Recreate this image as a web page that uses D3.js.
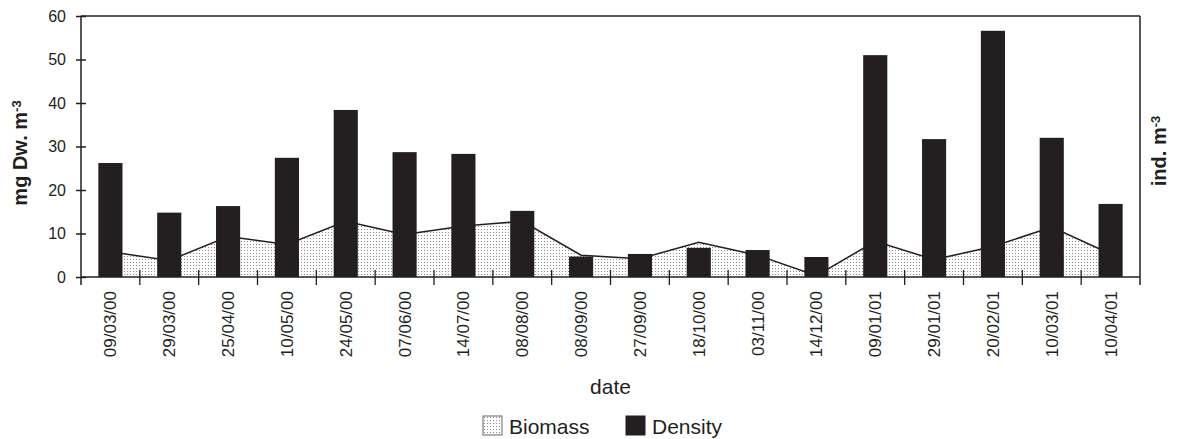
<!DOCTYPE html>
<html>
<head>
<meta charset="utf-8">
<script src="https://cdn.jsdelivr.net/npm/d3@7"></script>
<style>
  body { margin: 0; background: #fff; }
  svg { display: block; font-family: "Liberation Sans", Arial, sans-serif; }
</style>
</head>
<body>
<svg></svg>
<script>
var width = 1178;
var height = 439;

// data
var dates = ['09/03/00', '29/03/00', '25/04/00', '10/05/00', '24/05/00', '07/06/00',
  '14/07/00', '08/08/00', '08/09/00', '27/09/00', '18/10/00', '03/11/00',
  '14/12/00', '09/01/01', '29/01/01', '20/02/01', '10/03/01', '10/04/01'];
var biomass = [5.8, 3.8, 9.3, 7.5, 12.8, 9.8, 11.7, 12.8, 5.0, 4.2, 8.0, 5.0, 0.3, 8.2, 4.0, 7.0, 11.5, 5.3];
var density = [26.2, 14.8, 16.3, 27.4, 38.4, 28.7, 28.3, 15.2, 4.7, 5.3, 6.7, 6.2, 4.6, 51.0, 31.7, 56.6, 32.0, 16.8];
var yTicks = [0, 10, 20, 30, 40, 50, 60];
var seriesNames = ['Biomass', 'Density'];

var ink = '#231f20';
var plotL = 81, plotR = 1140, plotT = 16, plotB = 277;

var svg = d3.select('svg')
  .attr('width', width)
  .attr('height', height);

// dotted fill used for the biomass area
var defs = svg.append('defs');
var pat = defs.append('pattern')
  .attr('id', 'dots')
  .attr('patternUnits', 'userSpaceOnUse')
  .attr('width', 3)
  .attr('height', 3);
pat.append('rect').attr('width', 3).attr('height', 3).attr('fill', '#fff');
pat.append('rect').attr('x', 1).attr('y', 1).attr('width', 1).attr('height', 1).attr('fill', '#8a8a8a');

var x = d3.scaleBand().domain(dates).range([plotL, plotR]).padding(0);
var y = d3.scaleLinear().domain([0, 60]).range([plotB, plotT]);
var bw = x.bandwidth();
var cx = function(d) { return x(d) + bw / 2; };

// frame: top and right
svg.append('line')
  .attr('x1', plotL).attr('x2', plotR).attr('y1', plotT).attr('y2', plotT)
  .attr('stroke', ink).attr('stroke-width', 1.5);
svg.append('line')
  .attr('x1', plotR).attr('x2', plotR).attr('y1', plotT).attr('y2', plotB + 8)
  .attr('stroke', ink).attr('stroke-width', 1.5);

// biomass area + line
var pts = dates.map(function(d, i) { return [cx(d), biomass[i]]; });
var area = d3.area()
  .x(function(p) { return p[0]; })
  .y0(y(0))
  .y1(function(p) { return y(p[1]); });
var line = d3.line()
  .x(function(p) { return p[0]; })
  .y(function(p) { return y(p[1]); });

svg.append('path')
  .attr('d', area(pts))
  .attr('fill', 'url(#dots)');
svg.append('path')
  .attr('d', line(pts))
  .attr('fill', 'none')
  .attr('stroke', ink)
  .attr('stroke-width', 1.5);

// density bars
var barW = bw * 0.41;
svg.append('g')
  .selectAll('rect')
  .data(dates)
  .enter().append('rect')
    .attr('x', function(d) { return cx(d) - barW / 2; })
    .attr('y', function(d, i) { return y(density[i]); })
    .attr('width', barW)
    .attr('height', function(d, i) { return y(0) - y(density[i]); })
    .attr('fill', ink);

// left axis
var yAxis = svg.append('g')
  .attr('transform', 'translate(' + plotL + ',0)')
  .call(d3.axisLeft(y).tickValues(yTicks).tickSize(5).tickPadding(10));
yAxis.select('.domain').remove();
yAxis.selectAll('.tick line').attr('x2', 5).attr('x1', -5).attr('stroke', ink).attr('stroke-width', 1.5);
yAxis.selectAll('.tick text')
  .attr('font-size', 16)
  .attr('font-family', '"Liberation Sans", Arial, sans-serif')
  .attr('fill', ink);
svg.append('line')
  .attr('x1', plotL).attr('x2', plotL).attr('y1', plotT).attr('y2', plotB + 8)
  .attr('stroke', ink).attr('stroke-width', 1.5);

// bottom axis line + ticks on band boundaries
svg.append('line')
  .attr('x1', plotL).attr('x2', plotR).attr('y1', plotB).attr('y2', plotB)
  .attr('stroke', ink).attr('stroke-width', 1.5);
svg.append('g')
  .selectAll('line')
  .data(dates.slice(1))
  .enter().append('line')
    .attr('x1', function(d) { return x(d); })
    .attr('x2', function(d) { return x(d); })
    .attr('y1', plotB - 7)
    .attr('y2', plotB + 8)
    .attr('stroke', ink)
    .attr('stroke-width', 1.3);

svg.append('g')
  .selectAll('text')
  .data(dates)
  .enter().append('text')
    .attr('transform', function(d) { return 'translate(' + cx(d) + ',' + (plotB + 14) + ') rotate(-90)'; })
    .attr('text-anchor', 'end')
    .attr('dy', '0.35em')
    .attr('font-size', 17)
    .attr('fill', ink)
    .text(function(d) { return d; });

// axis titles
svg.append('text')
  .attr('x', (plotL + plotR) / 2)
  .attr('y', 394)
  .attr('text-anchor', 'middle')
  .attr('font-size', 21)
  .attr('fill', ink)
  .text('date');

var yl = svg.append('text')
  .attr('transform', 'translate(27,153) rotate(-90)')
  .attr('text-anchor', 'middle')
  .attr('font-size', 20)
  .attr('font-weight', 'bold')
  .attr('fill', ink);
yl.append('tspan').text('mg Dw. m');
yl.append('tspan').attr('dy', '-0.45em').attr('font-size', 13).text('-3');

var yr = svg.append('text')
  .attr('transform', 'translate(1166,151) rotate(-90)')
  .attr('text-anchor', 'middle')
  .attr('font-size', 20)
  .attr('font-weight', 'bold')
  .attr('fill', ink);
yr.append('tspan').text('ind. m');
yr.append('tspan').attr('dy', '-0.45em').attr('font-size', 13).text('-3');

// legend
var legendX = [483, 626];
var leg = svg.append('g')
  .selectAll('g')
  .data(seriesNames)
  .enter().append('g')
    .attr('transform', function(d, i) { return 'translate(' + legendX[i] + ',416)'; });
leg.append('rect')
  .attr('width', 19)
  .attr('height', 19)
  .attr('fill', function(d, i) { return i === 0 ? 'url(#dots)' : ink; })
  .attr('stroke', function(d, i) { return i === 0 ? '#666' : ink; })
  .attr('stroke-width', 1);
leg.append('text')
  .attr('x', 26)
  .attr('y', 18)
  .attr('font-size', 21)
  .attr('fill', ink)
  .text(function(d) { return d; });
</script>
</body>
</html>
